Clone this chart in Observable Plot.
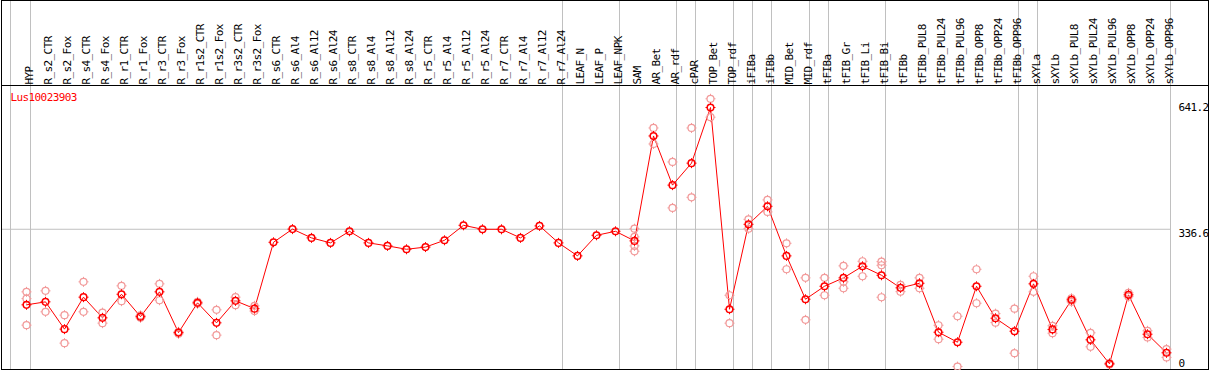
<!DOCTYPE html>
<html><head><meta charset="utf-8">
<script src="https://cdn.jsdelivr.net/npm/d3@7"></script>
<script src="https://cdn.jsdelivr.net/npm/@observablehq/plot@0.6"></script>
<style>body{margin:0;background:#fff}</style>
</head><body><div id="chart"></div>
<script>
const geneId = "Lus10023903";
const categories = ["HYP","R_s2_CTR","R_s2_Fox","R_s4_CTR","R_s4_Fox","R_r1_CTR","R_r1_Fox","R_r3_CTR","R_r3_Fox","R_r1s2_CTR","R_r1s2_Fox","R_r3s2_CTR","R_r3s2_Fox","R_s6_CTR","R_s6_Al4","R_s6_Al12","R_s6_Al24","R_s8_CTR","R_s8_Al4","R_s8_Al12","R_s8_Al24","R_r5_CTR","R_r5_Al4","R_r5_Al12","R_r5_Al24","R_r7_CTR","R_r7_Al4","R_r7_Al12","R_r7_Al24","LEAF_N","LEAF_P","LEAF_NPK","SAM","AR_Bet","AR_rdf","cPAR","TOP_Bet","TOP_rdf","iFIBa","iFIBb","MID_Bet","MID_rdf","tFIBa","tFIB_Gr","tFIB_Li","tFIB_Bi","tFIBb","tFIBb_PUL8","tFIBb_PUL24","tFIBb_PUL96","tFIBb_OPP8","tFIBb_OPP24","tFIBb_OPP96","sXYLa","sXYLb","sXYLb_PUL8","sXYLb_PUL24","sXYLb_PUL96","sXYLb_OPP8","sXYLb_OPP24","sXYLb_OPP96"];
const means = [147.5,155,86.7,166.7,115,174,118,180,78,152.5,102.5,157.5,138,304,337,315,302.5,331.5,302.5,295,286.5,292,309,346.5,336.5,336.5,315,345,302.5,270,321.5,331.5,307.5,570,447,502,641.2,136.5,349,394,270,161.5,194,215,244,221.5,190,201.5,79,54,194,114,81.5,200,86,160,60,0,172.5,74,27.5];
const replicates = [[180,163,96.7],[182.5,130],[121.7,51.7],[205,130],[128,101.7],[195,156.7],[121,115],[200,159],[80,75],[155,150],[135,71.7],[166.7,146.7],[145,132],[],[],[],[],[],[],[],[],[],[],[],[],[],[],[],[],[],[],[],[338,317.5,295,281.5],[590,550],[505,390],[590,416.5],[663,617],[171.5,101.7],[361.5,338],[410,380],[301.5,236.5],[215,110],[215,171.5],[245,205,189],[256.5,219],[255.5,246.5,166.5],[197.5,180.5],[215,189],[96.5,61.5],[119,-7],[236.5,151.5],[125.5,103],[138,26.5],[219,180],[95,76.5],[164,155],[77.5,42.5],[2,-2],[177.5,168],[82.5,66],[36.7,16]];
const groupEnds = ["HYP","R_r7_Al24","LEAF_NPK","AR_rdf","cPAR","TOP_rdf","iFIBa","iFIBb","MID_rdf","tFIBa","tFIB_Bi","tFIBb_OPP96","sXYLa","sXYLb_OPP96"];
const yLabels = [641.2, 0];
const yGrid = [336.6];

const meanData = categories.map((c, i) => ({cat: c, value: means[i]}));
const repData = categories.flatMap((c, i) => replicates[i].map(v => ({cat: c, value: v})));

// four small ticks around a circle of radius r
const ticks = {
  draw(ctx, size) {
    const r = Math.sqrt(size / Math.PI), a = r - 1.2, t = r + 0.4;
    ctx.moveTo(a, 0); ctx.lineTo(t, 0);
    ctx.moveTo(-a, 0); ctx.lineTo(-t, 0);
    ctx.moveTo(0, a); ctx.lineTo(0, t);
    ctx.moveTo(0, -a); ctx.lineTo(0, -t);
  }
};

const chart = Plot.plot({
  width: 1209, height: 370,
  margin: 0,
  style: "font-family: 'DejaVu Sans Mono', monospace; font-size: 11px; letter-spacing: -0.6px; background: #fff;",
  x: {type: "point", domain: categories, range: [26, 1166], padding: 0, axis: null},
  y: {domain: [0, 641.2], range: [363.3, 107], axis: null},
  marks: [
    Plot.ruleY(yGrid, {stroke: "#c0c0c0", insetLeft: 1, insetRight: 39}),
    Plot.ruleX(groupEnds, {x: d => d, dx: 4, stroke: "#c0c0c0"}),
    Plot.ruleX([categories[0]], {x: d => d, dx: -16, stroke: "#c0c0c0"}),
    Plot.frame({stroke: "#000", insetLeft: 1, insetRight: 1, insetBottom: 1}),
    Plot.frame({stroke: "#000", insetLeft: 1, insetRight: 1, insetBottom: 285}),
    Plot.text(categories, {x: d => d, frameAnchor: "top", dy: 84, dx: -1, rotate: -90, textAnchor: "start", fill: "#000"}),
    Plot.text([geneId], {frameAnchor: "top-left", dx: 10, dy: 93, lineAnchor: "top", textAnchor: "start", fill: "#ff0000"}),
    Plot.text(yLabels, {y: d => d, frameAnchor: "right", dx: -31, textAnchor: "start", lineAnchor: "middle", fill: "#000"}),
    Plot.text(yGrid, {y: d => d, frameAnchor: "right", dx: -31, textAnchor: "start", lineAnchor: "top", fill: "#000"}),
    Plot.line(meanData, {x: "cat", y: "value", stroke: "#ff0000", strokeWidth: 1}),
    Plot.dot(repData, {x: "cat", y: "value", r: 3.5, fill: "none", stroke: "#f29a9a", strokeWidth: 1.2}),
    Plot.dot(repData, {x: "cat", y: "value", r: 4.6, symbol: ticks, fill: "none", stroke: "#f29a9a", strokeWidth: 1}),
    Plot.dot(meanData, {x: "cat", y: "value", r: 3.3, fill: "none", stroke: "#ff0000", strokeWidth: 1.5}),
    Plot.dot(meanData, {x: "cat", y: "value", r: 4.6, symbol: ticks, fill: "none", stroke: "#ff0000", strokeWidth: 1})
  ]
});
document.getElementById("chart").append(chart);
</script>
</body></html>
